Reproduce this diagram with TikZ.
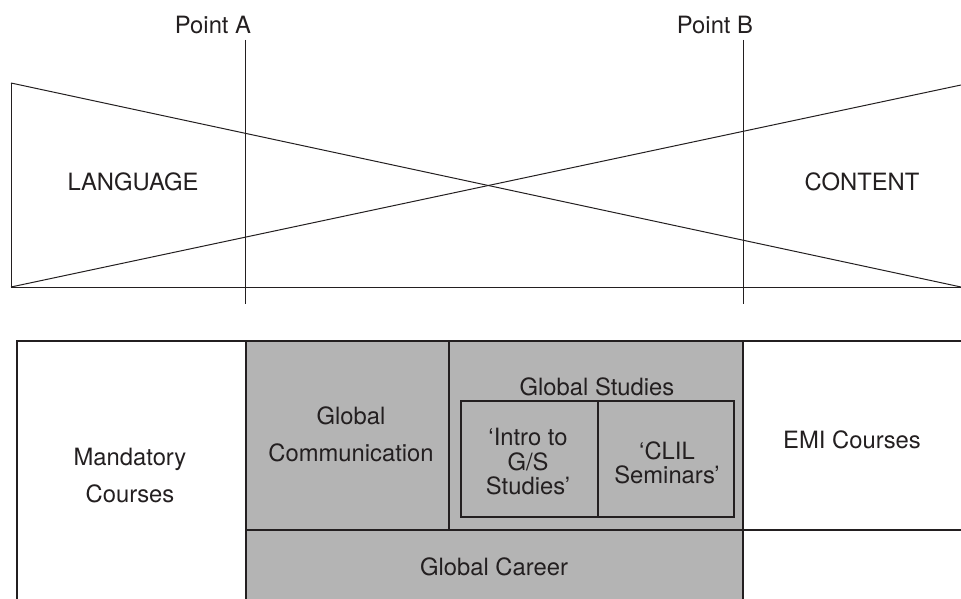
\documentclass[tikz,border=0pt]{standalone}
\usepackage{fontspec}
\setmainfont{TeX Gyre Heros}
\definecolor{inkc}{RGB}{35,31,32}
\definecolor{fillc}{RGB}{180,180,180}
\begin{document}
\begin{tikzpicture}[x=1pt,y=-1pt,
  thinline/.style={line width=1pt, draw=inkc},
  boxline/.style={line width=1.6pt, draw=inkc},
  lbl/.style={font=\fontsize{23.8}{37}\selectfont, text=inkc, align=center, inner sep=0pt},
  ilbl/.style={font=\fontsize{23.8}{24.5}\selectfont, text=inkc, align=center, inner sep=0pt}]
\useasboundingbox (0,0) rectangle (961,599);
\clip (0,0) rectangle (961,599);
% top diagram
\coordinate (tl) at (11,83);
\coordinate (bl) at (11,287);
\coordinate (tr) at (961,85);
\coordinate (br) at (961,287);
\coordinate (pat) at (245,40);
\coordinate (pab) at (245,304);
\coordinate (pbt) at (743,40);
\coordinate (pbb) at (743,304);
\draw[thinline] (tl) -- (bl) -- (br);
\draw[thinline] (tl) -- (br);
\draw[thinline] (bl) -- (tr);
\draw[thinline] (pat) -- (pab);
\draw[thinline] (pbt) -- (pbb);
\node[lbl] (pa) at (213,25) {Point A};
\node[lbl] (pb) at (715,25) {Point B};
\node[lbl] (lang) at (133,182) {LANGUAGE};
\node[lbl] (cont) at (862,182) {CONTENT};
% bottom diagram
\fill[fillc] (246,341) rectangle (743,620);
\draw[boxline] (17,620) -- (17,341) -- (961,341);
\draw[boxline] (246,341) -- (246,620);
\draw[boxline] (743,341) -- (743,620);
\draw[boxline] (449,341) -- (449,530);
\draw[boxline] (246,530) -- (961,530);
\draw[boxline] (461,401) rectangle (734,517);
\draw[boxline] (598,401) -- (598,517);
\node[lbl] (mand) at (130,476) {Mandatory\\Courses};
\node[lbl] (gcom) at (351,434) {Global\\Communication};
\node[lbl] (gstu) at (597,387) {Global Studies};
\node[ilbl] (intro) at (528,462) {`Intro to\\G/S\\Studies'};
\node[ilbl] (clil) at (667,463) {`CLIL\\Seminars'};
\node[lbl] (emi) at (852,440) {EMI Courses};
\node[lbl] (gcar) at (494,567) {Global Career};
\end{tikzpicture}
\end{document}
